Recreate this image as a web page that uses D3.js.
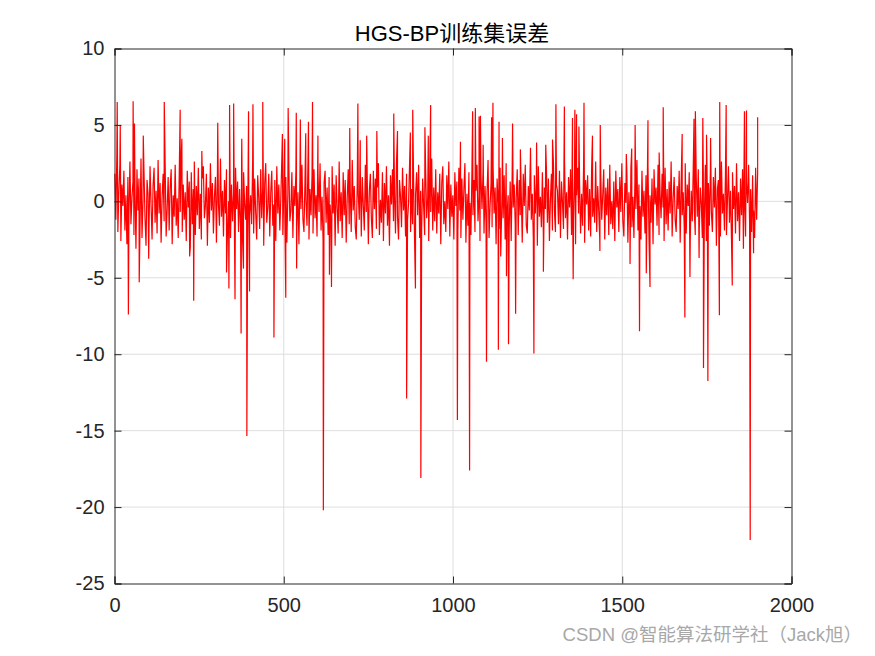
<!DOCTYPE html>
<html>
<head>
<meta charset="utf-8">
<script src="https://cdn.jsdelivr.net/npm/d3@7"></script>
<style>
body{margin:0;background:#fff;}
svg{display:block;font-family:"Liberation Sans",Arial,"Noto Sans CJK SC",sans-serif;}
.axis path{stroke:#262626;}
.axis line{stroke:#262626;}
.axis text{fill:#262626;font-family:"Liberation Sans",Arial,sans-serif;}
</style>
</head>
<body>
<div id="chart"></div>
<script>
// axis ticks
var xTicks = [0,500,1000,1500,2000];
var yTicks = [-25,-20,-15,-10,-5,0,5,10];

// dense error band (spread evenly over samples 1..1900)
var baseErr = [
1.8,-1.2,3.1,-2.0,0.6,2.4,-2.6,1.1,-0.3,2.0,-1.9,0.4,-2.8,1.6,-0.9,2.6,-1.5,0.2,1.3,-2.2,
0.9,-3.1,2.1,-0.6,1.5,-1.8,2.8,-2.4,0.1,1.9,-1.1,-2.9,1.4,0.5,-1.7,2.3,-0.2,-2.5,1.0,2.2,
-1.4,0.7,-2.1,2.7,-0.8,1.2,-2.7,0.3,1.8,-1.3,2.5,-2.3,-0.5,1.6,-1.9,0.9,2.1,-2.8,0.4,-1.0,
2.4,-1.6,0.2,-2.4,1.7,-0.7,2.9,-2.0,1.1,-1.2,0.6,-2.6,2.0,-0.4,1.3,-3.0,1.9,-1.5,0.8,2.6,
-2.2,1.0,-0.9,2.2,-1.8,0.5,-2.5,1.5,2.3,-1.1,-0.3,1.8,-2.9,0.9,-1.4,2.5,-0.6,1.2,-2.1,0.3,
1.6,-2.7,2.0,-0.2,-1.6,2.8,-1.0,0.7,-2.3,1.4,-0.8,2.1,-1.9,0.0,2.4,-2.4,1.1,-1.3,0.5,-2.8,
2.2,-0.5,1.3,-2.0,0.8,-1.7,2.6,-2.6,1.9,-0.1,-1.2,1.0,-2.2,2.3,-0.9,0.4,-1.5,2.7,-2.1,1.5,
-0.7,-2.5,1.7,0.3,-1.8,2.1,-1.1,0.9,-2.9,1.2,2.5,-1.4,-0.4,1.8,-2.3,0.6,2.0,-1.6,-0.2,1.4,
-2.6,2.3,-0.8,1.1,-1.9,0.2,2.8,-2.2,0.7,-1.0,1.6,-2.7,0.5,2.2,-1.3,-0.6,1.9,-2.4,1.0,-0.3,
2.0,-1.7,0.6,-2.8,1.5,-0.5,2.4,-1.2,-2.0,1.3,0.1,-1.6,2.6,-2.5,0.8,-0.9,1.7,-2.1,2.1,-1.1,
0.4,-2.3,1.8,-0.7,2.5,-1.9,0.3,-2.6,1.2,2.0,-1.4,0.9,-2.2,1.6,-0.2,-1.8,2.3,-0.8,1.1,-2.9,
1.7,-0.4,-2.1,2.6,-1.3,0.6,-2.4,1.9,-0.9,1.4,-2.7,0.2,2.1,-1.5,0.8,-2.0,2.7,-0.6,1.0,-1.7,
-2.5,1.3,0.5,-1.2,2.2,-2.3,1.6,-0.3,-1.9,2.4,-0.7,1.1,-2.8,0.7,1.8,-1.1,-2.4,2.0,-0.5,1.5,
-1.8,0.9,2.5,-2.2,0.1,-1.4,1.9,-2.6,1.2,-0.8,2.3,-1.6,0.4,-2.9,1.7,-0.2,2.1,-1.3,0.6,-2.1,
2.6,-1.0,-2.5,1.4,0.3,-1.7,2.2,-0.6,1.0,-2.3,1.8,-1.2,-0.1,2.5,-2.0,0.8,-1.5,1.3,-2.7,0.5,
1.9,-0.9,2.4,-2.4,0.7,-1.8,1.5,-0.4,-2.2,2.0,-1.1,0.2,-2.6,1.6,-0.7,2.8,-1.9,0.9,-1.3,2.1,
-2.1,0.6,-0.8,1.8,-2.8,1.2,2.3,-1.5,0.0,-2.0,1.7,-0.5,2.6,-2.3,1.1,-1.0,0.4,-2.5,1.9,-0.3,
1.3,-1.9,2.2,-0.6,-2.4,1.5,-1.2,0.8,2.5,-2.7,0.5,-1.6,1.9,-0.1,-2.2,2.1,-0.9,1.4,-2.0,0.7,
2.4,-1.3,0.3,-2.6,1.6,-0.5,2.0,-2.1,1.0,-1.4,0.6,2.7,-2.4,-0.3,1.2,-1.7,2.3,-0.8,0.9,-2.8,
1.5,-0.2,-1.8,2.2,-2.3,0.8,-1.1,1.7,-2.5,2.5,-0.7,0.4,-1.9,1.3,-2.6,2.0,-0.4,1.1,-1.5,0.2,
2.1,-2.2,1.4,-0.9,0.6,-2.7,1.8,-0.3,2.4,-1.6,-2.1,1.0,-0.6,2.6,-1.2,0.5,-2.4,1.7,-0.8,1.2,
-2.9,2.3,-1.0,0.3,-1.7,1.9,-2.3,0.9,-0.5,2.2,-1.4,1.5,-2.6,0.1,1.8,-1.9,2.5,-0.7,-2.0,1.1,
0.7,-1.5,2.0,-2.4,1.3,-0.1,-1.8,2.7,-1.1,0.6,-2.5,1.6,-0.4,2.1,-2.2,0.9,-1.3,1.9,-2.8,0.4,
2.2,-0.8,1.1,-2.1,0.5,-1.6,2.4,-2.7,1.4,-0.2,1.7,-1.9,0.8,-2.3,2.3,-1.0,0.2,-1.4,2.6,-2.0,
1.0,-0.6,-2.4,1.8,-1.2,0.4,2.1,-2.5,0.9,-0.9,1.5,-2.2,2.4,-1.5,0.0,-1.8,1.3,-2.6,2.0,-0.4,
0.8,-2.0,1.6,-0.7,2.5,-1.3,-2.3,1.2,-0.1,1.9,-2.7,0.6,-1.1,2.2,-1.7,0.3,-2.4,1.4,-0.5,2.7,
-1.9,1.1,-0.3,-2.5,2.0,-1.0,0.7,-2.1,1.7,-0.6,2.3,-2.4,0.4,-1.4,1.5,-2.8,2.1,-0.2,0.9,-1.6,
2.4,-2.2,0.5,-1.1,1.8,-0.4,-2.6,2.2,-1.5,0.8,-1.9,1.3,-0.8,2.6,-2.3,0.2,1.6,-1.2,-2.0,1.0,
-0.5,2.0,-2.7,1.4,-0.9,0.6,-1.7,2.5,-2.1,1.1,-0.3,1.9,-2.5,0.7,-1.3,2.3,-0.6,-2.2,1.5,-1.0,
2.1,-1.8,0.9,-0.2,-2.4,1.7,-1.2,2.4,-2.6,0.3,1.2,-1.6,2.0,-0.7,-2.0,1.6,-0.4,2.2,-2.9,0.8,
1.4,-1.1,-2.3,2.6,-0.8,0.5,-1.9,1.8,-2.2,0.1,2.3,-1.4,0.7,-2.5,1.9,-0.5,1.0,-2.1,2.5,-1.3,
0.6,-2.6,1.5,-0.9,2.1,-1.7,0.4,-2.3,1.2,-0.1,2.4,-1.5,0.8,-2.0,1.7,-0.6,-2.4,2.2,-1.2,1.9
];

// spikes: sample index and error
var spikeIdx = [8,17,41,55,59,73,85,101,147,194,199,222,234,258,305,331,338,340,352,356,374,376,381,391,396,399,409,438,471,496,503,506,513,537,538,549,565,573,585,601,617,635,641,
695,719,726,745,775,825,836,863,874,881,889,905,917,927,934,1013,1022,1049,1058,1066,1077,1081,1089,1099,1114,1118,1134,1136,1141,1146,1158,1164,1176,1185,1199,1229,1239,1247,1267,1274,1294,1304,1329,
1353,1355,1360,1365,1372,1387,1412,1434,1435,1512,1523,1528,1538,1551,1571,1576,1582,1609,1621,1677,1685,1700,1712,1716,1727,1738,1740,1749,1753,1761,1787,1788,1807,1825,1858,1861,1867,1878,1888,1900];
var spikeVal = [6.5,5.0,-7.4,6.55,5.1,-5.3,4.3,-3.75,6.5,6.0,4.1,-3.6,-6.5,3.3,5.15,-4.65,-5.7,6.3,6.4,-6.4,-8.65,4.1,-4.4,-15.35,5.9,-5.9,6.35,6.5,-8.9,4.4,4.1,-6.3,6.1,5.8,-4.4,5.35,4.45,5.2,6.5,4.3,-20.2,-4.8,-5.6,
4.8,6.4,4.0,4.3,4.6,5.75,4.6,-12.9,4.5,6.0,-5.7,-18.1,4.85,4.3,6.3,-14.3,3.9,-17.6,5.9,6.1,5.55,5.6,3.7,-10.5,5.5,6.45,-9.7,5.2,-3.6,4.15,-4.9,-9.35,5.1,-7.35,3.4,3.5,-9.95,3.85,-4.6,3.7,4.05,6.35,6.2,
5.45,-5.1,6.0,5.7,4.9,6.45,4.3,-3.25,5.0,3.1,-4.1,3.45,5.0,-8.5,-4.7,5.3,-5.6,3.2,6.15,4.4,-7.6,-4.95,5.4,5.9,-3.7,5.45,-10.9,4.35,-11.75,4.15,-7.45,6.5,6.3,-5.5,-3.1,5.9,5.95,-22.15,-3.4,5.5];

var W = 875, H = 656;
var L = 114.5, R = 791.5, T = 48.5, B = 583.5;

var svg = d3.select("#chart").append("svg").attr("width",W).attr("height",H);

var x = d3.scaleLinear().domain([0,2000]).range([L,R]);
var y = d3.scaleLinear().domain([-25,10]).range([B,T]);

// merge band + spikes into one series
var pts = [];
var step = (1900-1)/(baseErr.length-1);
baseErr.forEach(function(v,i){ pts.push([1+i*step, v]); });
spikeIdx.forEach(function(k,i){ pts.push([k, spikeVal[i]]); });
pts.sort(function(a,b){ return a[0]-b[0]; });

// grid
svg.append("g").selectAll("line").data(xTicks.slice(1,-1)).enter().append("line")
	.attr("x1",function(d){return x(d);}).attr("x2",function(d){return x(d);})
	.attr("y1",T).attr("y2",B)
	.style("stroke","#dedede").style("stroke-width",1);
svg.append("g").selectAll("line").data(yTicks.slice(1,-1)).enter().append("line")
	.attr("x1",L).attr("x2",R)
	.attr("y1",function(d){return y(d);}).attr("y2",function(d){return y(d);})
	.style("stroke","#dedede").style("stroke-width",1);

// the error line
var line = d3.line().x(function(d){return x(d[0]);}).y(function(d){return y(d[1]);});
svg.append("path").datum(pts)
	.attr("d",line)
	.style("fill","none")
	.style("stroke","#ff0000")
	.style("stroke-width",1.2);

// box axes with inward ticks
var fmt = function(d){ return String(d); };
svg.append("g").attr("class","axis").attr("transform","translate(0,"+B+")")
	.call(d3.axisBottom(x).tickValues(xTicks).tickSize(-7).tickPadding(14).tickFormat(fmt));
svg.append("g").attr("class","axis").attr("transform","translate(0,"+T+")")
	.call(d3.axisTop(x).tickValues(xTicks).tickSize(-7).tickFormat(""));
svg.append("g").attr("class","axis").attr("transform","translate("+L+",0)")
	.call(d3.axisLeft(y).tickValues(yTicks).tickSize(-7).tickPadding(10).tickFormat(fmt));
svg.append("g").attr("class","axis").attr("transform","translate("+R+",0)")
	.call(d3.axisRight(y).tickValues(yTicks).tickSize(-7).tickFormat(""));
svg.selectAll(".axis text").style("font-size","20px");

// title
svg.append("text").attr("x",452).attr("y",41)
	.attr("text-anchor","middle")
	.style("font-size","22px").style("fill","#000")
	.text("HGS-BP训练集误差");

// watermark
svg.append("text").attr("x",862).attr("y",641)
	.attr("text-anchor","end")
	.style("font-size","18.5px").style("fill","#a8a8a8")
	.text("CSDN @智能算法研学社（Jack旭）");
</script>
</body>
</html>
